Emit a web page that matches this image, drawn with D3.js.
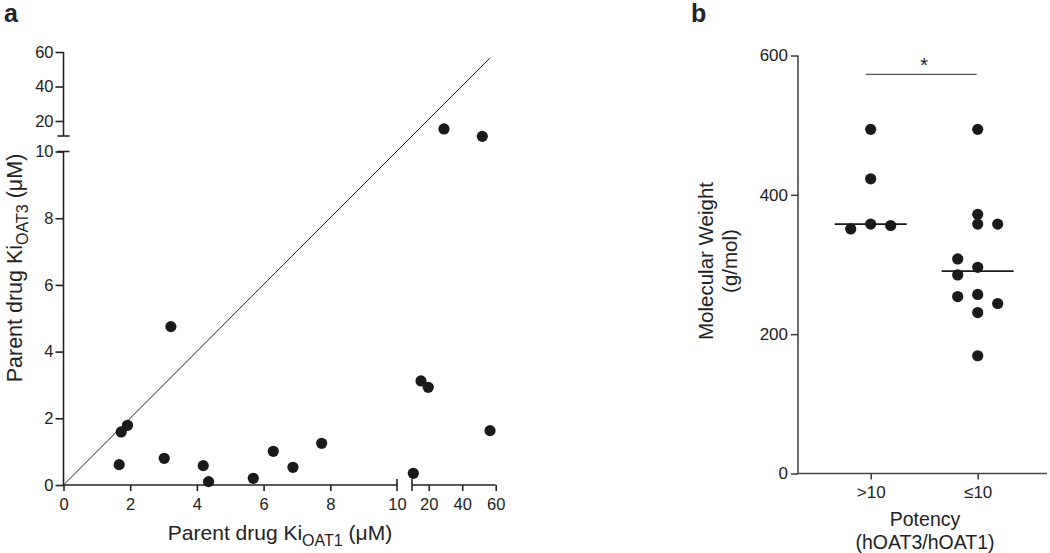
<!DOCTYPE html>
<html><head><meta charset="utf-8">
<script src="https://cdn.jsdelivr.net/npm/d3@7"></script>
<style>body{margin:0;background:#fff}svg{display:block}text{font-family:"Liberation Sans",Arial,sans-serif;fill:#222}</style>
</head><body><svg id="c" width="1050" height="553"></svg>
<script>
// Panel a data
const kiOAT1 = [3.22,1.92,1.73,1.67,3.02,4.19,4.35,5.69,6.29,6.88,7.74,10.8,15.4,19.7,56.6,29.1,52];
const kiOAT3 = [4.75,1.79,1.59,0.61,0.80,0.58,0.10,0.20,1.01,0.53,1.25,0.35,3.12,2.93,1.63,15.4,11.1];
const xTicksLow = [0,2,4,6,8,10];
const xTicksHigh = [20,40,60];
const yTicksLow = [0,2,4,6,8,10];
const yTicksHigh = [20,40,60];
const identityEnd = 56.6;
// Panel b data
const potencyGroups = [">10","≤10"];
const mwHigh = [494,423,358,356,351];
const mwLow = [494,372,358,358,308,296,285,254,257,244,231,169];
const jitterHigh = [0,0,0,1,-1];
const jitterLow = [0,0,0,1,-1,0,-1,-1,0,1,0,0];
const mwTicks = [0,200,400,600];

const svg = d3.select("#c");
const ink = "#222";

// ---------- Panel a ----------
const xLo = d3.scaleLinear([0,10],[63.5,397]);
const xHi = d3.scaleLinear([10,60],[412,495.7]);
const yLo = d3.scaleLinear([0,10],[485,151.5]);
const yHi = d3.scaleLinear([11.3,60],[136,52]);
const px = v => v <= 10 ? xLo(v) : xHi(v);
const py = v => v <= 10 ? yLo(v) : yHi(v);
const a = svg.append("g");
const line = (g,x1,y1,x2,y2,w,c) => g.append("line").attr("x1",x1).attr("y1",y1).attr("x2",x2).attr("y2",y2).attr("stroke",c||ink).attr("stroke-width",w||1.6);

function styleAxis(g, fs){
  g.select(".domain").remove();
  g.selectAll(".tick line").attr("stroke",ink).attr("stroke-width",1.6);
  g.selectAll(".tick text").attr("font-size",fs).attr("fill",ink).attr("font-family","Liberation Sans, Arial, sans-serif");
}
// y axes
const yaL = a.append("g").attr("transform","translate(63.5,0)").call(d3.axisLeft(yLo).tickValues(yTicksLow).tickSize(8).tickPadding(2));
styleAxis(yaL,16.5);
const yaH = a.append("g").attr("transform","translate(63.5,0)").call(d3.axisLeft(yHi).tickValues(yTicksHigh).tickSize(8).tickPadding(2));
styleAxis(yaH,16.5);
line(a,63.5,yLo(0),63.5,yLo(10));
line(a,57.5,yLo(10),69.5,yLo(10));
line(a,63.5,yHi(60),63.5,yHi(11.3));
line(a,57.5,yHi(11.3),69.5,yHi(11.3));
// x axes
const xaL = a.append("g").attr("transform","translate(0,485)").call(d3.axisBottom(xLo).tickValues(xTicksLow).tickSize(6).tickPadding(7));
styleAxis(xaL,16.5);
xaL.selectAll(".tick line").filter(d=>d===10).remove();
const xaH = a.append("g").attr("transform","translate(0,485)").call(d3.axisBottom(xHi).tickValues(xTicksHigh).tickSize(6).tickPadding(7));
styleAxis(xaH,16.5);
line(a,xLo(0),485,xLo(10),485);
line(a,xLo(10),479,xLo(10),491);
line(a,xHi(10),485,xHi(60),485);
line(a,xHi(10),479,xHi(10),491);
// identity line
line(a,px(0),py(0),px(identityEnd),py(identityEnd),1,ink);
// points
a.selectAll("circle.pa").data(kiOAT1.map((d,i)=>[d,kiOAT3[i]])).join("circle").attr("class","pa")
  .attr("cx",d=>px(d[0])).attr("cy",d=>py(d[1])).attr("r",5.6).attr("fill","#1a1a1a");
// titles
const xt = a.append("text").attr("x",280).attr("y",540).attr("text-anchor","middle").attr("font-size",21);
xt.append("tspan").text("Parent drug Ki");
xt.append("tspan").text("OAT1").attr("font-size",16).attr("dy",6);
xt.append("tspan").text(" (μM)").attr("dy",-6);
const yt = a.append("text").attr("transform","translate(22,268) rotate(-90)").attr("text-anchor","middle").attr("font-size",21.5);
yt.append("tspan").text("Parent drug Ki");
yt.append("tspan").text("OAT3").attr("font-size",16).attr("dy",6);
yt.append("tspan").text(" (μM)").attr("dy",-6);
a.append("text").attr("x",4).attr("y",22).attr("font-size",25).attr("font-weight","bold").text("a");

// ---------- Panel b ----------
const bInk = "#444";
const yB = d3.scaleLinear([0,600],[473.5,55.5]);
const xB = d3.scalePoint(potencyGroups,[870.7,977.7]);
const slot = 20;
const b = svg.append("g");
const yb = b.append("g").attr("transform","translate(798,0)").call(d3.axisLeft(yB).tickValues(mwTicks).tickSize(7).tickPadding(3));
styleAxis(yb,17);
yb.selectAll(".tick line").attr("stroke",bInk);
line(b,798,yB(0),798,yB(600),1.6,bInk);
line(b,798,yB(0),1047,yB(0),1.6,bInk);
const xb = b.append("g").attr("transform","translate(0,"+yB(0)+")").call(d3.axisBottom(xB).tickSize(6).tickPadding(6));
styleAxis(xb,17);
xb.selectAll(".tick line").attr("stroke",bInk);
const groups = [[mwHigh,jitterHigh],[mwLow,jitterLow]];
groups.forEach(([vals,jit],gi)=>{
  const cx = xB(potencyGroups[gi]);
  b.selectAll("circle.g"+gi).data(vals).join("circle").attr("class","g"+gi)
    .attr("cx",(d,i)=>cx+jit[i]*slot).attr("cy",d=>yB(d)).attr("r",5.6).attr("fill","#1a1a1a");
  const med = d3.median(vals);
  line(b,cx-36,yB(med),cx+36,yB(med),1.8,"#1a1a1a");
});
// significance
line(b,xB(">10")-5,74.3,xB("≤10")-1,74.3,1.2,"#555");
b.append("text").attr("x",(xB(">10")+xB("≤10"))/2).attr("y",72).attr("text-anchor","middle").attr("font-size",20).text("*");
// titles
b.append("text").attr("x",925).attr("y",526).attr("text-anchor","middle").attr("font-size",19.5).text("Potency");
b.append("text").attr("x",925).attr("y",549).attr("text-anchor","middle").attr("font-size",19.5).text("(hOAT3/hOAT1)");
b.append("text").attr("transform","translate(713,261) rotate(-90)").attr("text-anchor","middle").attr("font-size",20.5).text("Molecular Weight");
b.append("text").attr("transform","translate(737,261) rotate(-90)").attr("text-anchor","middle").attr("font-size",20.5).text("(g/mol)");
b.append("text").attr("x",691).attr("y",22).attr("font-size",25).attr("font-weight","bold").text("b");
</script></body></html>
